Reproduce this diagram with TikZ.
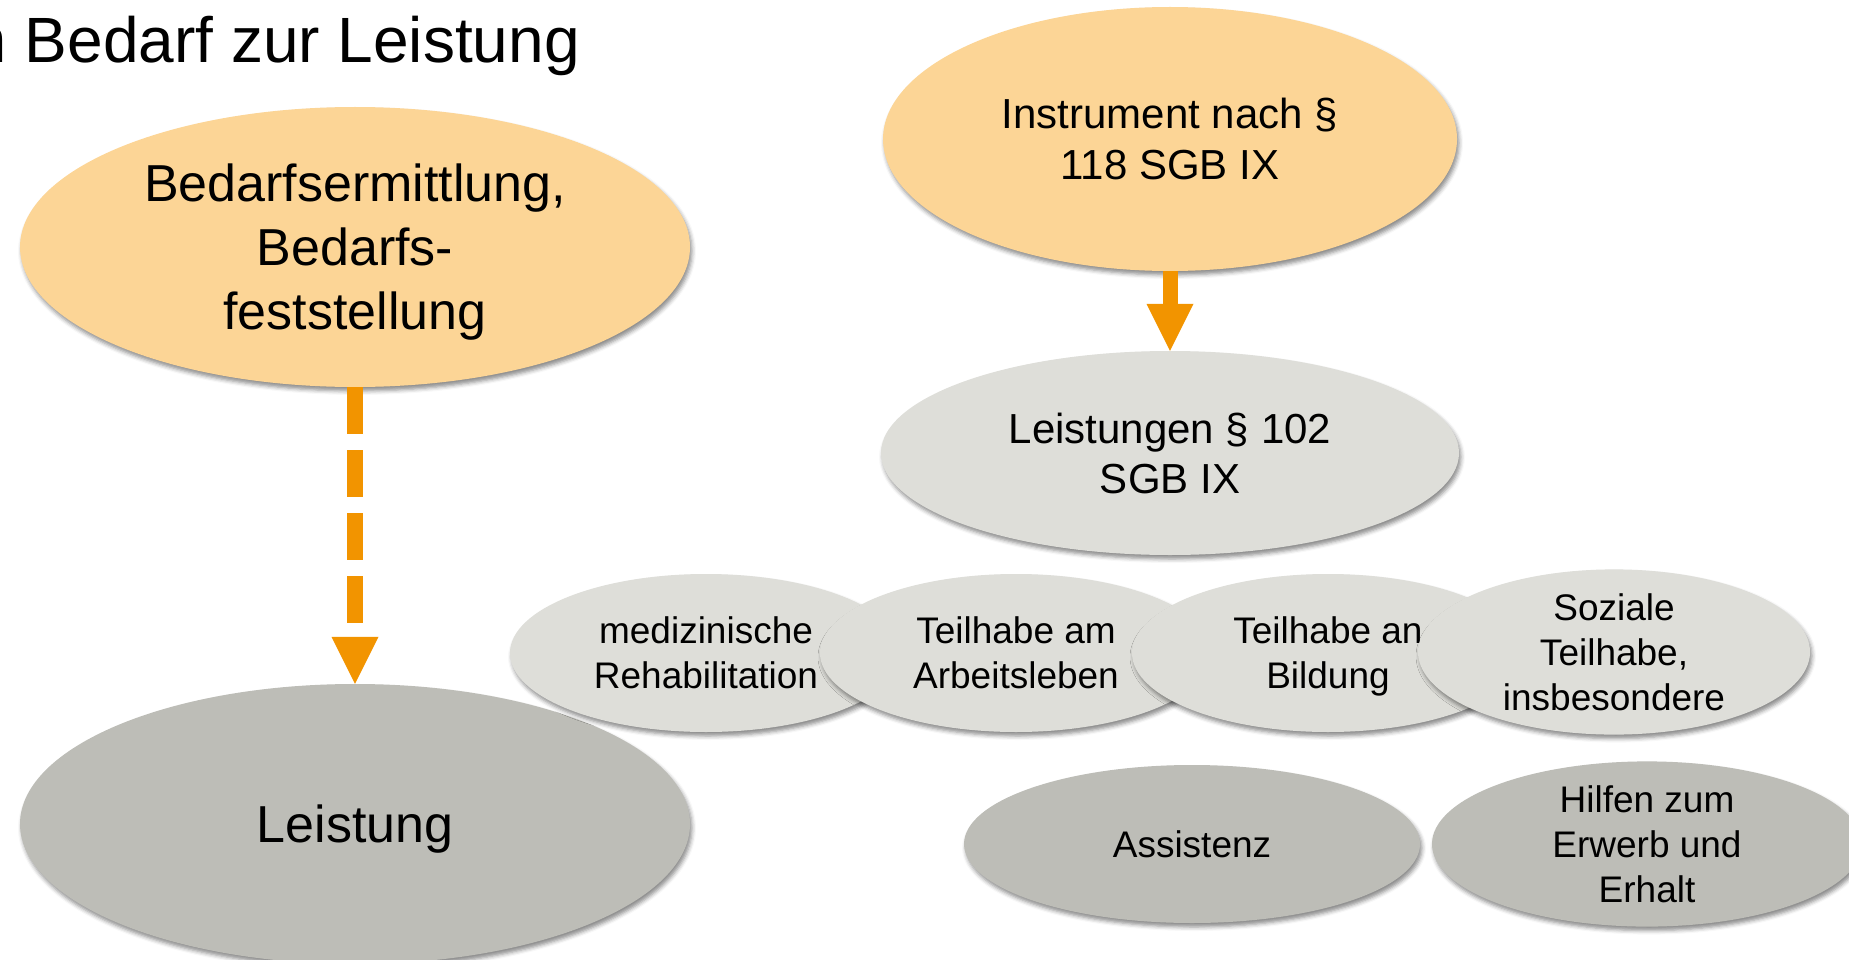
\documentclass[tikz,border=0pt]{standalone}
\usepackage{fontspec}
\setmainfont{Liberation Sans}
\usetikzlibrary{shapes,arrows}
\usetikzlibrary{arrows.meta}
\usetikzlibrary{shadows,shadows.blur}
\definecolor{bdorange}{RGB}{252,213,150}
\definecolor{bdlight}{RGB}{222,222,217}
\definecolor{bddark}{RGB}{189,189,183}
\definecolor{bdarrow}{RGB}{242,148,0}
\newcommand{\fsz}[2] {\fontsize{#1}{#2}\selectfont}
\newcommand{\bdoval}[7] {\node at (#1) (#2) [ellipse, fill=#3, minimum width=#4pt, minimum height=#5pt, inner sep=0pt, text depth=0pt, align=center, font=#6, blur shadow={shadow xshift=2pt, shadow yshift=-4pt, shadow blur radius=4pt, shadow opacity=45}] {#7};}
\newcommand{\bdsmall}[5] {\bdoval{#1}{#2}{#3}{#4}{158}{\fsz{37}{45}}{#5}}
\newcommand{\bdtransition}[2] {\draw [-{Triangle[length=47pt,width=47pt,line width=0pt]}, line width=15pt, bdarrow] (#1) -- (#2);}
\newcommand{\bddashtransition}[2] {\draw [-{Triangle[length=47pt,width=47pt,line width=0pt]}, line width=16pt, bdarrow, dash pattern=on 47pt off 16pt] (#1) -- (#2);}

\begin{document}
\begin{tikzpicture}[x=1pt, y=-1pt]
\useasboundingbox (0,0) rectangle (1849,960);
\clip (0,0) rectangle (1849,960);

\node at (580,63) (title) [anchor=base east, inner sep=0pt, font=\fsz{64}{76}] {Vom Bedarf zur Leistung};

\bdoval {355,247} {ermittlung} {bdorange} {670} {280} {\fsz{52}{64}} {Bedarfsermittlung,\\Bedarfs-\\feststellung};
\bdoval {355,824} {leistung} {bddark} {670} {280} {\fsz{52}{64}} {Leistung};
\bdoval {1170,139} {instrument} {bdorange} {574} {264} {\fsz{42}{51}} {Instrument nach §\\118 SGB IX};
\bdoval {1170,453} {leistungen} {bdlight} {578} {204} {\fsz{42}{50}} {Leistungen § 102\\SGB IX};

\bdsmall {706,653} {reha} {bdlight} {392} {medizinische\\Rehabilitation};
\bdsmall {1016,653} {arbeit} {bdlight} {392} {Teilhabe am\\Arbeitsleben};
\bdsmall {1328,653} {bildung} {bdlight} {392} {Teilhabe an\\Bildung};
\bdsmall {1614,652} {sozial} {bdlight} {392} {Soziale\\Teilhabe,\\insbesondere};
\bdsmall {1192,844} {assistenz} {bddark} {456} {Assistenz};
\bdsmall {1647,844} {hilfen} {bddark} {430} {Hilfen zum\\Erwerb und\\Erhalt};

\bddashtransition {ermittlung.south} {leistung.north};
\bdtransition {instrument.south} {leistungen.north};
\end{tikzpicture}
\end{document}
